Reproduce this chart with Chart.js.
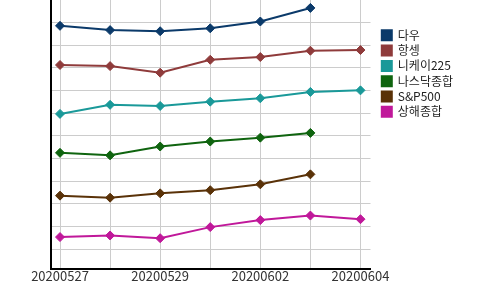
<!DOCTYPE html>
<html>
<head>
<meta charset="utf-8">
<script src="https://cdn.jsdelivr.net/npm/chart.js@4"></script>
<style>
  body { margin: 0; background: #fff; }
  #wrap { width: 500px; height: 290px; }
</style>
</head>
<body>
<div id="wrap"><canvas id="canvas"></canvas></div>
<script>
var DATES = ["20200527", "20200528", "20200529", "20200601", "20200602", "20200603", "20200604"];
var NAMES = ["다우", "항셍", "니케이225", "나스닥종합", "S&P500", "상해종합"];
var COLORS = ["#0b3a6a", "#8f3b3b", "#1a9999", "#0f640f", "#5a3208", "#c0189a"];

// relative level of each index (no axis labels in the original)
var dow    = [108.6, 106.7, 106.2, 107.5, 110.5, 116.5, null];
var hangseng = [91.3, 90.8, 87.9, 93.6, 94.8, 97.6, 97.9];
var nikkei = [69.7, 73.7, 73.2, 75.1, 76.6, 79.4, 80.1];
var nasdaq = [52.5, 51.4, 55.3, 57.5, 59.2, 61.3, null];
var sp500  = [33.6, 32.7, 34.6, 36.0, 38.6, 43.0, null];
var shanghai = [15.3, 16.0, 14.8, 19.7, 22.8, 24.8, 23.2];

var Y_TICKS = [10, 20, 30, 40, 50, 60, 70, 80, 90, 100, 110];

Chart.defaults.font.family = "'Noto Sans CJK KR', 'Noto Sans', sans-serif";

function toPoints(arr) {
	var pts = [];
	for (var i = 0; i < arr.length; i++) {
		if (arr[i] !== null) pts.push({ x: i, y: arr[i] });
	}
	return pts;
}

var seriesList = [dow, hangseng, nikkei, nasdaq, sp500, shanghai];
var datasets = seriesList.map(function (s, i) {
	return {
		label: NAMES[i],
		data: toPoints(s),
		borderColor: COLORS[i],
		backgroundColor: COLORS[i],
		borderWidth: 2,
		pointStyle: 'rectRot',
		pointRadius: 4.5,
		pointBorderWidth: 1,
		tension: 0,
		clip: false
	};
});

// push legend a bit right of the plot
var legendShift = {
	id: 'legendShift',
	afterUpdate: function (chart) {
		chart.legend.left += 8;
		chart.legend.right += 8;
	}
};

window.onload = function () {
	var ctx = document.getElementById('canvas').getContext('2d');
	window.myLine = new Chart(ctx, {
		type: 'line',
		data: { datasets: datasets },
		plugins: [legendShift],
		options: {
			responsive: true,
			maintainAspectRatio: false,
			animation: false,
			layout: { autoPadding: false, padding: { left: 51, right: 45, top: 0, bottom: 7.4 } },
			plugins: {
				tooltip: { enabled: false },
				legend: {
					position: 'right',
					align: 'start',
					title: { display: true, text: '', padding: { top: 0, bottom: 11.6 }, font: { size: 12 } },
					labels: {
						boxWidth: 10,
						boxHeight: 10,
						padding: 3.3,
						color: '#222',
						font: { size: 12 }
					}
				}
			},
			scales: {
				x: {
					type: 'linear',
					min: -0.18,
					max: 6.2,
					afterBuildTicks: function (scale) {
						scale.ticks = DATES.map(function (d, i) { return { value: i }; });
					},
					ticks: {
						autoSkip: false,
						maxRotation: 0,
						padding: -1,
						color: '#333',
						font: { size: 13 },
						callback: function (v) {
							return v % 2 === 0 ? DATES[v] : '';
						}
					},
					grid: { color: '#cccccc', drawTicks: false },
					border: { color: '#000', width: 2 }
				},
				y: {
					min: 1.2,
					max: 120,
					afterBuildTicks: function (scale) {
						scale.ticks = Y_TICKS.map(function (v) { return { value: v }; });
					},
					ticks: { display: false },
					grid: { color: '#cccccc', drawTicks: false },
					border: { color: '#000', width: 2 }
				}
			}
		}
	});
};
</script>
</body>
</html>
